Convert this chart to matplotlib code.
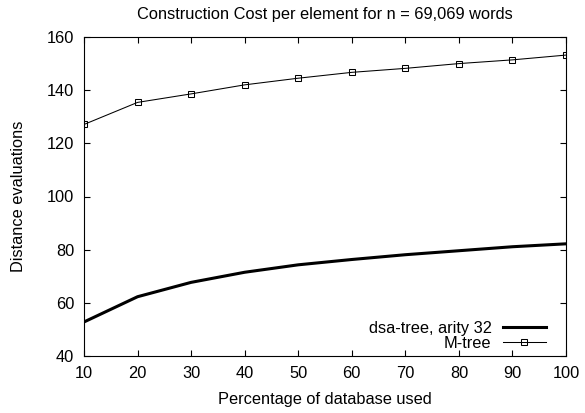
import matplotlib
matplotlib.use("Agg")
import matplotlib.pyplot as plt

plt.rcParams['font.family'] = ['Liberation Sans', 'DejaVu Sans']

pct = [10, 20, 30, 40, 50, 60, 70, 80, 90, 100]
dsa_tree = [52.8, 62.3, 67.7, 71.5, 74.3, 76.3, 78.1, 79.6, 81.1, 82.2]
m_tree = [127.1, 135.4, 138.6, 142.0, 144.5, 146.7, 148.2, 150.0, 151.4, 153.2]

FS = 11.8
fig = plt.figure(figsize=(5.85, 4.13), dpi=100)
ax = fig.add_axes([84/585, 1-356/413, (566-84)/585, (356-37)/413])

ax.plot(pct, dsa_tree, color='black', lw=2.2, label='dsa-tree, arity 32')
ax.plot(pct, m_tree, color='black', lw=0.75, marker='s', markersize=4,
        markerfacecolor='none', markeredgewidth=0.75, label='M-tree')

ax.set_xlim(10, 100)
ax.set_ylim(40, 160)
ax.set_xticks(pct)
ax.set_yticks(range(40, 161, 20))
ax.tick_params(direction='in', top=True, right=True, labelsize=FS, length=4)
ax.tick_params(axis='x', pad=7)
ax.tick_params(axis='y', pad=7)
ax.set_xlabel('Percentage of database used', fontsize=FS, labelpad=8)
ax.set_ylabel('Distance evaluations', fontsize=FS, labelpad=15)
ax.set_title('Construction Cost per element for n = 69,069 words', fontsize=FS, pad=13)
ax.legend(loc='lower right', bbox_to_anchor=(0.9585, 0.016), frameon=False,
          markerfirst=False, fontsize=FS, handlelength=2.65, handletextpad=0.67,
          borderaxespad=0, borderpad=0, labelspacing=0.0)

fig.savefig('out.png', dpi=100)
